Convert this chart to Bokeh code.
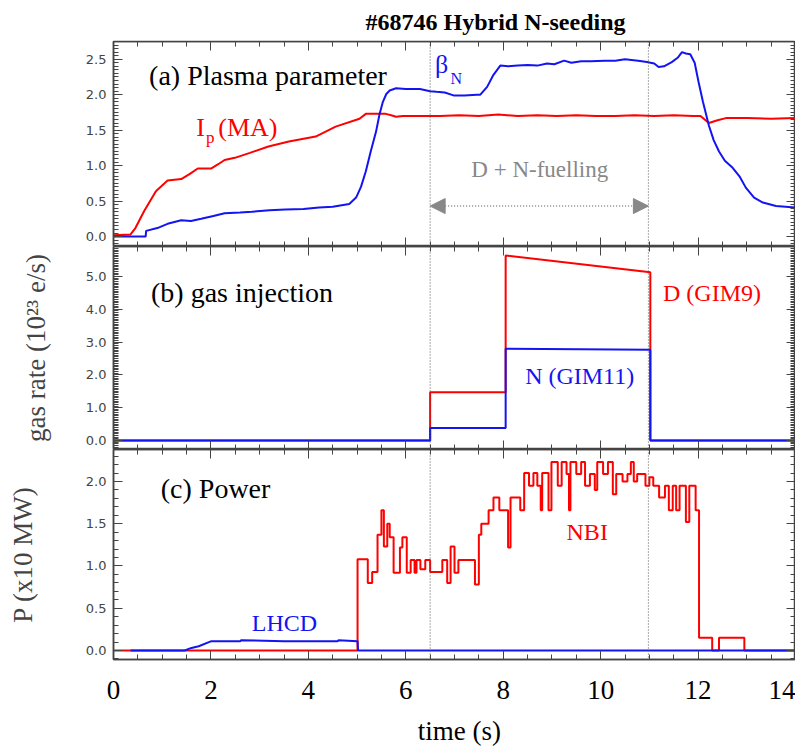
from bokeh.plotting import figure
from bokeh.layouts import column
from bokeh.models import (Range1d, LinearAxis, SingleIntervalTicker, PrintfTickFormatter,
                          Span, Label, Arrow, NormalHead, Title)
from bokeh.embed import file_html
from bokeh.resources import INLINE

# ---------------- data ----------------
ip_t = [0, 0.35, 0.45, 0.63, 0.87, 1.11, 1.25, 1.39, 1.56, 1.73, 2.01, 2.15, 2.28, 2.49, 2.8, 3.18,
        3.6, 4.15, 4.56, 5.05, 5.18, 5.4, 5.59, 5.7, 5.8, 5.94, 6.3, 6.7, 7.1, 7.5, 7.9, 8.3, 8.7,
        9.1, 9.5, 9.9, 10.3, 10.7, 11.1, 11.5, 11.9, 12.05, 12.22, 12.4, 12.57, 13.0, 13.5, 14.0]
ip_v = [0.02, 0.03, 0.12, 0.36, 0.64, 0.79, 0.80, 0.81, 0.88, 0.96, 0.96, 1.02, 1.08, 1.11, 1.18, 1.27,
        1.34, 1.41, 1.55, 1.66, 1.73, 1.73, 1.73, 1.71, 1.69, 1.70, 1.70, 1.70, 1.71, 1.70, 1.72, 1.70, 1.71,
        1.70, 1.71, 1.70, 1.70, 1.71, 1.70, 1.71, 1.70, 1.70, 1.60, 1.64, 1.67, 1.67, 1.66, 1.67]

bn_t = [0, 0.39, 0.66, 0.67, 0.9, 1.11, 1.39, 1.59, 1.80, 2.05, 2.28, 2.6, 2.84, 3.2, 3.53, 3.9, 4.22,
        4.5, 4.84, 4.98, 5.08, 5.18, 5.28, 5.39, 5.46, 5.53, 5.6, 5.67, 5.8, 6.0, 6.29, 6.5, 6.63, 6.8,
        6.98, 7.2, 7.46, 7.53, 7.67, 7.8, 7.94, 8.1, 8.3, 8.5, 8.7, 8.9, 9.05, 9.25, 9.4, 9.6, 9.8,
        10.08, 10.3, 10.5, 10.77, 10.95, 11.1, 11.19, 11.3, 11.46, 11.58, 11.67, 11.75, 11.84, 11.93,
        12.01, 12.1, 12.22, 12.32, 12.43, 12.55, 12.71, 12.85, 12.98, 13.15, 13.33, 13.6, 14.0]
bn_v = [0, 0, 0, 0.08, 0.12, 0.18, 0.23, 0.22, 0.25, 0.29, 0.33, 0.34, 0.35, 0.37, 0.38, 0.39, 0.41,
        0.42, 0.46, 0.55, 0.70, 0.92, 1.20, 1.48, 1.72, 1.90, 2.01, 2.06, 2.09, 2.08, 2.08, 2.05, 2.04, 2.03,
        1.99, 1.99, 2.00, 2.00, 2.11, 2.28, 2.41, 2.40, 2.41, 2.42, 2.41, 2.44, 2.43, 2.48, 2.45, 2.47, 2.47,
        2.48, 2.48, 2.50, 2.48, 2.46, 2.44, 2.39, 2.40, 2.46, 2.52, 2.60, 2.58, 2.57, 2.45,
        2.18, 1.90, 1.57, 1.36, 1.20, 1.07, 0.97, 0.85, 0.69, 0.55, 0.48, 0.43, 0.41]

gas_t = [0, 6.5, 6.5, 8.05, 8.05, 11.02, 11.02, 14.0]
gas_d = [0, 0, 1.47, 1.47, 5.64, 5.13, 0, 0]
gas_n = [0, 0, 0.38, 0.38, 2.80, 2.77, 0, 0]

lh_t = [0.35, 1.46, 1.6, 1.75, 2.01, 2.6, 2.62, 3.5, 4.6, 4.62, 5.01, 5.02, 14.0]
lh_v = [0, 0, 0.03, 0.05, 0.11, 0.11, 0.12, 0.11, 0.11, 0.12, 0.11, 0, 0]

nbi_t = [0, 5.01, 5.22, 5.31, 5.42, 5.50, 5.55, 5.62, 5.67, 5.75, 5.88, 5.93, 6.02, 6.10, 6.18, 6.22,
         6.30, 6.40, 6.50, 6.75, 6.85, 6.92, 7.00, 7.08, 7.42, 7.50, 7.55, 7.70, 7.80, 7.92, 8.10, 8.15,
         8.35, 8.43, 8.53, 8.62, 8.70, 8.77, 8.80, 8.93, 8.99, 9.12, 9.20, 9.30, 9.35, 9.38, 9.50, 9.60,
         9.68, 9.78, 9.88, 9.93, 10.05, 10.15, 10.25, 10.32, 10.45, 10.55, 10.62, 10.68, 10.75, 10.92,
         11.00, 11.08, 11.20, 11.32, 11.40, 11.48, 11.55, 11.62, 11.75, 11.82, 11.95, 12.02, 12.29,
         12.43, 12.95, 14.0]
nbi_v = [0, 1.08, 0.80, 0.93, 1.37, 1.66, 1.23, 1.50, 1.34, 0.92, 1.22, 1.34, 0.92, 1.07, 0.92, 1.07,
         0.96, 1.07, 0.93, 1.07, 0.80, 1.23, 0.92, 1.07, 0.78, 1.37, 1.50, 1.66, 1.81, 1.66, 1.22, 1.81,
         1.66, 2.10, 1.95, 2.10, 1.95, 1.66, 2.10, 1.66, 2.23, 1.95, 2.23, 2.09, 1.66, 2.23, 2.09, 2.23,
         1.95, 2.09, 1.90, 2.23, 2.09, 2.23, 1.85, 2.09, 2.00, 2.09, 2.23, 2.00, 2.09, 1.95,
         2.05, 1.95, 1.81, 1.95, 1.66, 1.95, 1.66, 1.95, 1.52, 1.95, 1.66, 0.15, 0.0,
         0.15, 0.0, 0.0]

fuel_start, fuel_end = 6.5, 10.98
x_ticks_interval = 2

RED = "#ff0000"
BLUE = "#1414f0"
AX = "#444444"
SERIF = "Liberation Serif"

xr = Range1d(0, 14)


def make_fig(height, yr, top, bottom):
    p = figure(width=795, height=height, x_range=xr, y_range=yr,
               x_axis_location=None, y_axis_location=None,
               output_backend="svg", toolbar_location=None,
               min_border_left=113, min_border_right=0,
               min_border_top=top, min_border_bottom=bottom)
    p.grid.visible = False
    p.outline_line_color = AX
    p.outline_line_width = 1.5
    p.background_fill_color = "white"
    p.border_fill_color = "white"
    return p


def style_axis(ax, labels=True):
    ax.axis_line_color = AX
    ax.axis_line_width = 1.5
    ax.major_tick_line_color = AX
    ax.minor_tick_line_color = AX
    ax.major_tick_in = 9
    ax.major_tick_out = 0
    ax.minor_tick_in = 5
    ax.minor_tick_out = 0
    if not labels:
        ax.major_label_text_color = None


def add_axes(p, yint, yminor, ylabel=None, ylabel_standoff=20, bottom_labels=False):
    yt = SingleIntervalTicker(interval=yint, num_minor_ticks=yminor)
    xt = SingleIntervalTicker(interval=x_ticks_interval, num_minor_ticks=4)
    left = LinearAxis(ticker=yt, formatter=PrintfTickFormatter(format="%.1f"))
    style_axis(left)
    left.major_label_text_font = "DejaVu Sans"
    left.major_label_text_font_size = "13px"
    left.major_label_text_color = AX
    left.major_label_standoff = 7
    if ylabel:
        left.axis_label = ylabel
        left.axis_label_text_font = SERIF
        left.axis_label_text_font_style = "normal"
        left.axis_label_text_font_size = "27px"
        left.axis_label_standoff = ylabel_standoff
    p.add_layout(left, "left")
    right = LinearAxis(ticker=yt, fixed_location=p.x_range.end)
    style_axis(right, labels=False)
    p.add_layout(right, "right")
    top = LinearAxis(ticker=xt, fixed_location=p.y_range.end)
    style_axis(top, labels=False)
    p.add_layout(top, "above")
    if bottom_labels:
        bot = LinearAxis(ticker=xt)
        style_axis(bot)
        bot.major_label_text_font = SERIF
        bot.major_label_text_font_size = "27px"
        bot.major_label_text_color = "black"
        bot.major_label_standoff = 21
    else:
        bot = LinearAxis(ticker=xt, fixed_location=p.y_range.start)
        style_axis(bot, labels=False)
    p.add_layout(bot, "below")
    for loc in (fuel_start, fuel_end):
        p.add_layout(Span(location=loc, dimension="height", line_color="#555555",
                          line_width=1, line_dash="1 2"))


def label(p, x, y, text, color="black", size="28px", align="left"):
    p.add_layout(Label(x=x, y=y, text=text, text_color=color, text_font=SERIF,
                       text_font_size=size, text_baseline="middle", text_align=align))


# ---------------- panel (a) ----------------
pa = make_fig(246, Range1d(-0.14, 2.75), 39, 0)
pa.title = Title(text="#68746 Hybrid N-seeding", align="left", offset=252,
                 text_font=SERIF, text_font_style="bold", text_font_size="24px",
                 text_color="black", standoff=13)
add_axes(pa, 0.5, 10)
pa.line(ip_t, ip_v, line_color=RED, line_width=2)
pa.line(bn_t, bn_v, line_color=BLUE, line_width=2)
label(pa, 0.73, 2.27, "(a) Plasma parameter")
label(pa, 1.70, 1.54, "I", RED, "26px")
label(pa, 1.90, 1.39, "p", RED, "17px")
label(pa, 2.15, 1.54, "(MA)", RED, "26px")
label(pa, 6.60, 2.42, "\u03b2", BLUE, "26px")
label(pa, 6.92, 2.23, "N", BLUE, "16px")
label(pa, 8.75, 0.95, "D + N-fuelling", "#888888", "23px", align="center")
pa.add_layout(Arrow(start=NormalHead(size=15, fill_color="#888888", line_color="#888888"),
                    end=NormalHead(size=15, fill_color="#888888", line_color="#888888"),
                    x_start=fuel_start, x_end=fuel_end, y_start=0.43, y_end=0.43,
                    line_color="#888888", line_width=1.5, line_dash="1 2"))

# ---------------- panel (b) ----------------
pb = make_fig(203, Range1d(-0.274, 5.915), 0, 0)
add_axes(pb, 1.0, 20, ylabel="gas rate (10\u00b2\u00b3 e/s)", ylabel_standoff=32)
pb.line(gas_t, gas_d, line_color=RED, line_width=2)
pb.line(gas_t, gas_n, line_color=BLUE, line_width=2)
label(pb, 0.77, 4.5, "(b) gas injection")
label(pb, 11.28, 4.51, "D (GIM9)", RED, "24px")
label(pb, 8.45, 1.98, "N (GIM11)", BLUE, "24px")

# ---------------- panel (c) ----------------
pc = make_fig(264, Range1d(-0.107, 2.379), 0, 54)
add_axes(pc, 0.5, 5, ylabel="P (x10 MW)", ylabel_standoff=45, bottom_labels=True)
pc.step(nbi_t, nbi_v, mode="after", line_color=RED, line_width=2)
pc.line(lh_t, lh_v, line_color=BLUE, line_width=2)
label(pc, 0.97, 1.92, "(c) Power")
label(pc, 9.30, 1.40, "NBI", RED, "24px")
label(pc, 2.84, 0.32, "LHCD", BLUE, "24px")

# ---------------- x-axis title strip ----------------
pd = figure(width=795, height=33, x_range=xr, y_range=Range1d(0, 1),
            x_axis_location=None, y_axis_location=None,
            output_backend="svg", toolbar_location=None,
            min_border_left=113, min_border_right=0, min_border_top=0, min_border_bottom=0)
pd.grid.visible = False
pd.outline_line_color = None
label(pd, 7.1, 0.46, "time (s)", "black", "27px", align="center")

layout = column(pa, pb, pc, pd, spacing=0)
open("out.html", "w").write(file_html(layout, INLINE))
